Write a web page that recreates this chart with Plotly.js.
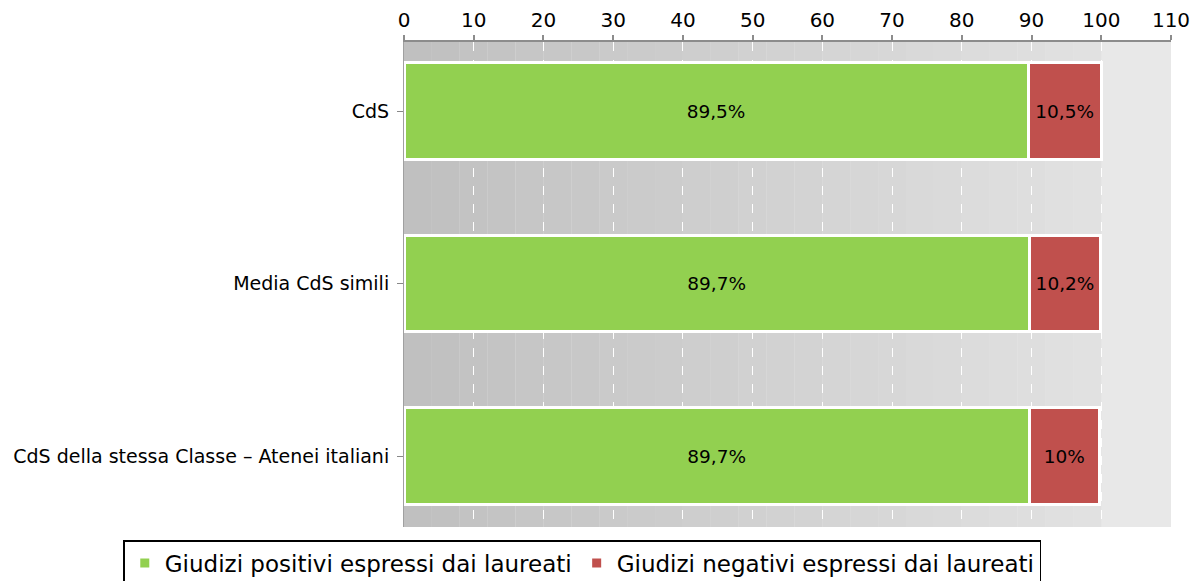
<!DOCTYPE html>
<html>
<head>
<meta charset="utf-8">
<script src="https://cdn.plot.ly/plotly-3.0.1.min.js"></script>
<style>html,body{margin:0;padding:0;background:#fff;}#chart{width:1195px;height:581px;}</style>
</head>
<body>
<div id="chart"></div>
<script>
var categories = ["CdS", "Media CdS simili", "CdS della stessa Classe – Atenei italiani"];
var positivi = [89.5, 89.7, 89.7];
var negativi = [10.5, 10.2, 10];
var seriesNames = ["Giudizi positivi espressi dai laureati", "Giudizi negativi espressi dai laureati"];
var xTicks = [0, 10, 20, 30, 40, 50, 60, 70, 80, 90, 100, 110];

var FONT = "DejaVu Sans, Lucida Grande, sans-serif";

function mkTrace(vals, name, color) {
  return {
    type: "bar", orientation: "h",
    y: categories, x: vals, name: name,
    marker: {color: color, line: {color: "#ffffff", width: 3}},
    texttemplate: "%{x}%", textposition: "inside", insidetextanchor: "middle",
    textangle: 0, constraintext: "none",
    textfont: {family: FONT, size: 18.5, color: "#000000"},
    hoverinfo: "skip"
  };
}

// background gradient (decoration) from 0 to 100
var shapes = [];
var steps = 25;
function lerp(a, b, t) { return Math.round(a + (b - a) * t); }
for (var i = 0; i < steps; i++) {
  var t = i / (steps - 1);
  var c = lerp(0xc0, 0xe1, t);
  var col = "rgb(" + c + "," + c + "," + c + ")";
  shapes.push({type: "rect", xref: "x", yref: "paper", layer: "below",
    x0: 100 * i / steps, x1: 100 * (i + 1) / steps, y0: 0, y1: 1,
    fillcolor: col, line: {width: 0}});
}

var data = [mkTrace(positivi, seriesNames[0], "#92d050"), mkTrace(negativi, seriesNames[1], "#c0504d")];

var layout = {
  width: 1195, height: 581,
  margin: {l: 404, r: 24, t: 42, b: 54, pad: 0, autoexpand: false},
  paper_bgcolor: "#ffffff", plot_bgcolor: "#e8e8e8",
  barmode: "stack", bargap: 0.44,
  separators: ",.",
  font: {family: FONT, size: 16, color: "#000000"},
  shapes: shapes,
  xaxis: {
    side: "top", range: [0, 110], tickvals: xTicks, ticktext: xTicks.map(String),
    tickfont: {family: FONT, size: 20, color: "#000"},
    showgrid: true, gridcolor: "#ffffff", griddash: "dash", gridwidth: 1,
    zeroline: false, showline: true, linecolor: "#8c8c8c", linewidth: 2,
    ticks: "outside", ticklen: 5, tickcolor: "#8c8c8c", tickwidth: 2,
    fixedrange: true
  },
  yaxis: {
    type: "category", range: [2.41, -0.40],
    tickfont: {family: FONT, size: 19, color: "#000"},
    showgrid: false, zeroline: false, showline: true, linecolor: "#a0a0a0", linewidth: 1,
    ticks: "outside", ticklen: 6, tickcolor: "#888", ticklabelstandoff: 4,
    fixedrange: true
  },
  showlegend: true,
  legend: {
    orientation: "h", x: -0.366, xanchor: "left", y: -0.027, yanchor: "top",
    bordercolor: "#000000", borderwidth: 1.5, bgcolor: "#ffffff",
    font: {family: FONT, size: 23, color: "#000"},
    traceorder: "normal", itemwidth: 30
  }
};

Plotly.newPlot("chart", data, layout, {displayModeBar: false, staticPlot: true});
</script>
</body>
</html>
